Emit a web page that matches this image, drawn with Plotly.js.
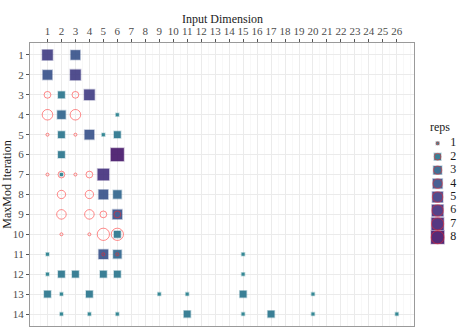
<!DOCTYPE html>
<html>
<head>
<meta charset="utf-8">
<script src="https://cdn.plot.ly/plotly-3.0.1.min.js"></script>
<style>html,body{margin:0;padding:0;background:#fff}</style>
</head>
<body>
<div id="chart" style="width:465px;height:332px"></div>
<script>
// squares: chosen input dimension at each MaxMod iteration, sized/coloured by reps
const sqDim  = [1, 3, 1, 3, 2, 4, 2, 6, 2, 4, 5, 6, 2, 6, 2, 5, 5, 6, 6, 6, 1, 5, 6, 15, 1, 2, 3, 5, 6, 15, 1, 2, 4, 9, 11, 15, 20, 2, 4, 6, 11, 15, 17, 20, 26];
const sqIter = [1, 1, 2, 2, 3, 3, 4, 4, 5, 5, 5, 5, 6, 6, 7, 7, 8, 8, 9, 10, 11, 11, 11, 11, 12, 12, 12, 12, 12, 12, 13, 13, 13, 13, 13, 13, 13, 14, 14, 14, 14, 14, 14, 14, 14];
const sqReps = [5, 4, 4, 5, 2, 5, 3, 1, 2, 4, 1, 2, 2, 8, 1, 6, 4, 3, 4, 2, 1, 4, 3, 1, 1, 2, 2, 2, 2, 1, 2, 1, 2, 1, 1, 2, 1, 1, 1, 1, 2, 1, 2, 1, 1];

// red rings
const ciDim  = [1, 3, 1, 3, 1, 3, 1, 2, 3, 4, 2, 4, 2, 4, 5, 6, 2, 4, 5, 6, 5, 6];
const ciIter = [3, 3, 4, 4, 5, 5, 7, 7, 7, 7, 8, 8, 9, 9, 9, 9, 10, 10, 10, 10, 11, 11];
const ciReps = [2, 2, 5, 5, 1, 1, 1, 2, 1, 2, 3, 3, 4, 4, 2, 2, 1, 1, 7, 7, 1, 1];

const repLevels = [1, 2, 3, 4, 5, 6, 7, 8];
const xTicks = [1, 2, 3, 4, 5, 6, 7, 8, 9, 10, 11, 12, 13, 14, 15, 16, 17, 18, 19, 20, 21, 22, 23, 24, 25, 26];
const yTicks = [1, 2, 3, 4, 5, 6, 7, 8, 9, 10, 11, 12, 13, 14];

const FONT = 'Liberation Serif, Times New Roman, serif';

// area scale like ggplot: 3px .. 13px
function sizeOf(r) { return 3 + 10 * Math.sqrt((r - 1) / 7); }

// slice of viridis, teal (reps 1) to dark purple (reps 8)
const vir = [[0, '#27808E'], [1/7, '#2B768E'], [2/7, '#31668E'], [3/7, '#3A548C'],
             [4/7, '#433F85'], [5/7, '#46337F'], [6/7, '#482878'], [1, '#481A6C']];
const virEdge = vir.map(s => {
    const h = s[1];
    const r = parseInt(h.slice(1, 3), 16), g = parseInt(h.slice(3, 5), 16), b = parseInt(h.slice(5, 7), 16);
    return [s[0], `rgba(${r},${g},${b},0.3)`];
});
const RING = 'rgba(255,35,35,0.75)';

function squares(x, y, reps, xa, ya) {
    return {
        x: x, y: y, xaxis: xa, yaxis: ya,
        type: 'scatter', mode: 'markers', hoverinfo: 'skip', showlegend: false,
        marker: {
            symbol: 'square', size: reps.map(sizeOf), opacity: 0.92,
            color: reps, colorscale: vir, cmin: 1, cmax: 8,
            line: { width: 1.5, color: reps, colorscale: virEdge, cmin: 1, cmax: 8 }
        }
    };
}

function rings(x, y, reps, xa, ya) {
    return {
        x: x, y: y, xaxis: xa, yaxis: ya,
        type: 'scatter', mode: 'markers', hoverinfo: 'skip', showlegend: false,
        marker: {
            symbol: 'circle-open', size: reps.map(sizeOf),
            color: RING, line: { width: 1, color: RING }
        }
    };
}

const legX = repLevels.map(() => 0.44);
const data = [
    squares(sqDim, sqIter, sqReps, 'x', 'y'),
    rings(ciDim, ciIter, ciReps, 'x', 'y'),
    squares(legX, repLevels, repLevels, 'x2', 'y2'),
    rings(legX, repLevels, repLevels, 'x2', 'y2'),
    {
        x: repLevels.map(() => 0.83), y: repLevels, xaxis: 'x2', yaxis: 'y2',
        type: 'scatter', mode: 'text', text: repLevels.map(String),
        textposition: 'middle center', hoverinfo: 'skip', showlegend: false,
        textfont: { family: FONT, size: 12, color: '#1a1a1a' }
    }
];

const layout = {
    width: 465, height: 332,
    margin: { l: 30, r: 5, t: 43, b: 6 },
    paper_bgcolor: '#fff', plot_bgcolor: '#fff',
    font: { family: FONT, size: 11, color: '#4d4d4d' },
    showlegend: false,
    xaxis: {
        domain: [0, 0.8937], range: [-0.25, 27.25], side: 'top',
        tickmode: 'array', tickvals: xTicks, ticks: 'outside', ticklen: 3, tickcolor: '#555',
        tickfont: { size: 11, color: '#4d4d4d' },
        showgrid: true, gridcolor: '#ebebeb', gridwidth: 1,
        minor: { dtick: 0.5, tick0: 0.5, showgrid: true, gridcolor: '#f3f3f3', gridwidth: 0.6 },
        zeroline: false, showline: true, mirror: true, linecolor: '#9a9a9a', linewidth: 1,
        automargin: false
    },
    yaxis: {
        domain: [0, 1], range: [14.6, 0.4],
        tickmode: 'array', tickvals: yTicks, ticks: 'outside', ticklen: 3, tickcolor: '#555',
        tickfont: { size: 11, color: '#4d4d4d' },
        showgrid: true, gridcolor: '#ebebeb', gridwidth: 1,
        zeroline: false, showline: true, mirror: true, linecolor: '#9a9a9a', linewidth: 1,
        title: { text: 'MaxMod Iteration', font: { size: 12, color: '#1a1a1a' }, standoff: 4 },
        automargin: false
    },
    xaxis2: {
        domain: [0.907, 1], range: [0, 1], anchor: 'y2',
        visible: false, fixedrange: true
    },
    yaxis2: {
        domain: [0, 1], range: [14.6, -6.47], anchor: 'x2',
        visible: false, fixedrange: true
    },
    annotations: [
        {
            xref: 'x', yref: 'paper', x: 13.5, y: 1, yanchor: 'middle', yshift: 24,
            text: 'Input Dimension', showarrow: false,
            font: { family: FONT, size: 12, color: '#1a1a1a' }
        },
        {
            xref: 'x2', yref: 'y2', x: 0.49, y: -0.2, text: 'reps', showarrow: false,
            font: { family: FONT, size: 12, color: '#1a1a1a' }
        }
    ]
};

Plotly.newPlot('chart', data, layout, { displayModeBar: false, staticPlot: true });
</script>
</body>
</html>
